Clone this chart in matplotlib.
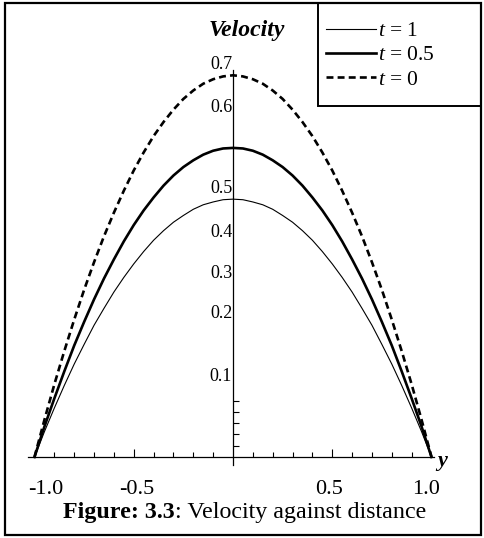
import matplotlib
matplotlib.use("Agg")
import matplotlib.pyplot as plt
from matplotlib.patches import Rectangle

plt.rcParams['font.family'] = ['Liberation Serif', 'DejaVu Serif']
plt.rcParams['mathtext.fontset'] = 'custom'
plt.rcParams['mathtext.rm'] = 'Liberation Serif'
plt.rcParams['mathtext.it'] = 'Liberation Serif:italic'
plt.rcParams['mathtext.bf'] = 'Liberation Serif:bold'
plt.rcParams['lines.scale_dashes'] = False

# ---------------- data ----------------
distance = [-1.00, -0.95, -0.90, -0.85, -0.80, -0.75, -0.70, -0.65, -0.60, -0.55,
            -0.50, -0.45, -0.40, -0.35, -0.30, -0.25, -0.20, -0.15, -0.10, -0.05,
            0.00,
            0.05, 0.10, 0.15, 0.20, 0.25, 0.30, 0.35, 0.40, 0.45, 0.50,
            0.55, 0.60, 0.65, 0.70, 0.75, 0.80, 0.85, 0.90, 0.95, 1.00]
velocity_t1 = [0.000, 0.045, 0.087, 0.127, 0.165, 0.200, 0.234, 0.264, 0.293, 0.319,
               0.343, 0.365, 0.385, 0.402, 0.417, 0.429, 0.440, 0.448, 0.453, 0.457,
               0.458,
               0.457, 0.453, 0.448, 0.440, 0.429, 0.417, 0.402, 0.385, 0.365, 0.343,
               0.319, 0.293, 0.264, 0.234, 0.200, 0.165, 0.127, 0.087, 0.045, 0.000]
velocity_t05 = [0.000, 0.054, 0.104, 0.152, 0.198, 0.240, 0.280, 0.317, 0.351, 0.383,
                0.412, 0.438, 0.461, 0.482, 0.500, 0.515, 0.527, 0.537, 0.544, 0.548,
                0.549,
                0.548, 0.544, 0.537, 0.527, 0.515, 0.500, 0.482, 0.461, 0.438, 0.412,
                0.383, 0.351, 0.317, 0.280, 0.240, 0.198, 0.152, 0.104, 0.054, 0.000]
velocity_t0 = [0.000, 0.066, 0.129, 0.188, 0.244, 0.297, 0.346, 0.392, 0.434, 0.473,
               0.509, 0.541, 0.570, 0.595, 0.617, 0.636, 0.651, 0.663, 0.671, 0.676,
               0.678,
               0.676, 0.671, 0.663, 0.651, 0.636, 0.617, 0.595, 0.570, 0.541, 0.509,
               0.473, 0.434, 0.392, 0.346, 0.297, 0.244, 0.188, 0.129, 0.066, 0.000]
series_labels = ['$t$ = 1', '$t$ = 0.5', '$t$ = 0']

x_tick_labels = ['-1.0', '-0.5', '0.5', '1.0']
x_tick_label_pos = [-0.942, -0.484, 0.484, 0.972]
x_long_ticks = [-0.5, 0.5]
x_short_ticks = [-0.9, -0.8, -0.7, -0.6, -0.4, -0.3, -0.2, -0.1,
                 0.1, 0.2, 0.3, 0.4, 0.6, 0.7, 0.8, 0.9]
y_tick_labels = ['0.1', '0.2', '0.3', '0.4', '0.5', '0.6', '0.7']
y_tick_label_pos = [0.146, 0.258, 0.330, 0.403, 0.480, 0.625, 0.700]
y_minor_ticks = [0.02, 0.04, 0.06, 0.08, 0.10]

y_axis_title = 'Velocity'
x_axis_title = 'y'
caption_bold = 'Figure: 3.3'
caption_rest = ': Velocity against distance'

# ---------------- layout ----------------
W, H, DPI = 484, 538, 100
X0, XS = 233.0, 198.5      # pixel of x=0, pixels per unit
Y0, YS = 457.0, 563.0      # pixel of v=0, pixels per unit
xlim = (-1.12, 1.12)
ylim = (-0.05, 0.75)
left_px = X0 + xlim[0] * XS
right_px = X0 + xlim[1] * XS
top_px = Y0 - ylim[1] * YS
bottom_px = Y0 - ylim[0] * YS
FR_L, FR_R, FR_T, FR_B = 5, 481, 3, 535   # outer frame (pixels)


def fx(px):
    return (px - left_px) / (right_px - left_px)


def fy(py):
    return (bottom_px - py) / (bottom_px - top_px)


fig = plt.figure(figsize=(W / DPI, H / DPI), dpi=DPI)
fig.patch.set_facecolor('white')
ax = fig.add_axes([left_px / W, 1 - bottom_px / H,
                   (right_px - left_px) / W, (bottom_px - top_px) / H])
ax.set_xlim(xlim)
ax.set_ylim(ylim)
ax.patch.set_visible(False)

l1, = ax.plot(distance, velocity_t1, color='black', lw=0.8)
l2, = ax.plot(distance, velocity_t05, color='black', lw=1.9)
l3, = ax.plot(distance, velocity_t0, color='black', lw=1.9, linestyle=(0, (5, 3)))

for s in ['top', 'right']:
    ax.spines[s].set_visible(False)
ax.spines['left'].set_position(('data', 0))
ax.spines['bottom'].set_position(('data', 0))
ax.spines['left'].set_bounds(-0.0142, 0.687)
ax.spines['bottom'].set_bounds(-1.033, 1.015)
ax.spines['left'].set_linewidth(0.9)
ax.spines['bottom'].set_linewidth(0.9)

# x ticks
ax.set_xticks(x_long_ticks, labels=['' for _ in x_long_ticks])
ax.set_xticks(x_short_ticks, minor=True)
ax.tick_params(axis='x', which='major', direction='in', length=5.8, width=0.8)
ax.tick_params(axis='x', which='minor', direction='in', length=3.6, width=0.8)

# y ticks
ax.set_yticks(y_tick_label_pos, labels=y_tick_labels)
ax.set_yticks(y_minor_ticks, minor=True)
ax.tick_params(axis='y', which='major', length=0, pad=0.6, labelsize=13)
ax.tick_params(axis='y', which='minor', direction='in', length=4.1, width=0.8)

# x tick labels on a secondary axis placed on the x-axis line
sec = ax.secondary_xaxis((0 - ylim[0]) / (ylim[1] - ylim[0]))
sec.set_xticks(x_tick_label_pos, labels=x_tick_labels)
sec.tick_params(axis='x', length=0, pad=16.3, labelsize=16)
sec.spines['bottom'].set_visible(False)
sec.spines['top'].set_visible(False)

# axis titles
ax.set_ylabel(y_axis_title, rotation=0, fontsize=17, fontweight='bold',
              fontstyle='italic', ha='center', va='center')
ax.yaxis.set_label_coords(fx(246.7), fy(30))
ax.set_xlabel(x_axis_title, fontsize=16, fontweight='bold', fontstyle='italic',
              ha='left', va='baseline')
ax.xaxis.set_label_coords(fx(437), fy(466))

# legend
fig.legend([l1, l2, l3], series_labels, loc='upper left',
           bbox_to_anchor=(326 / W, 1 - 21 / H), frameon=False, fontsize=15.5,
           handlelength=2.3, handletextpad=0.1, labelspacing=0.2,
           borderpad=0, borderaxespad=0)
fig.add_artist(Rectangle((318 / W, 1 - 106 / H), (FR_R - 318) / W, (106 - FR_T) / H,
                         transform=fig.transFigure, fill=False, ec='black', lw=1.4))

# outer frame
fig.add_artist(Rectangle((FR_L / W, 1 - FR_B / H), (FR_R - FR_L) / W, (FR_B - FR_T) / H,
                         transform=fig.transFigure, fill=False, ec='black', lw=1.6))

# caption
t1 = fig.text(63 / W, 1 - 518 / H, caption_bold, fontsize=17.3, fontweight='bold',
              ha='left', va='baseline')
ax.annotate(caption_rest, xy=(1, 0), xycoords=t1, ha='left', va='bottom', fontsize=17.3,
            annotation_clip=False)

fig.savefig('out.png', dpi=DPI)
